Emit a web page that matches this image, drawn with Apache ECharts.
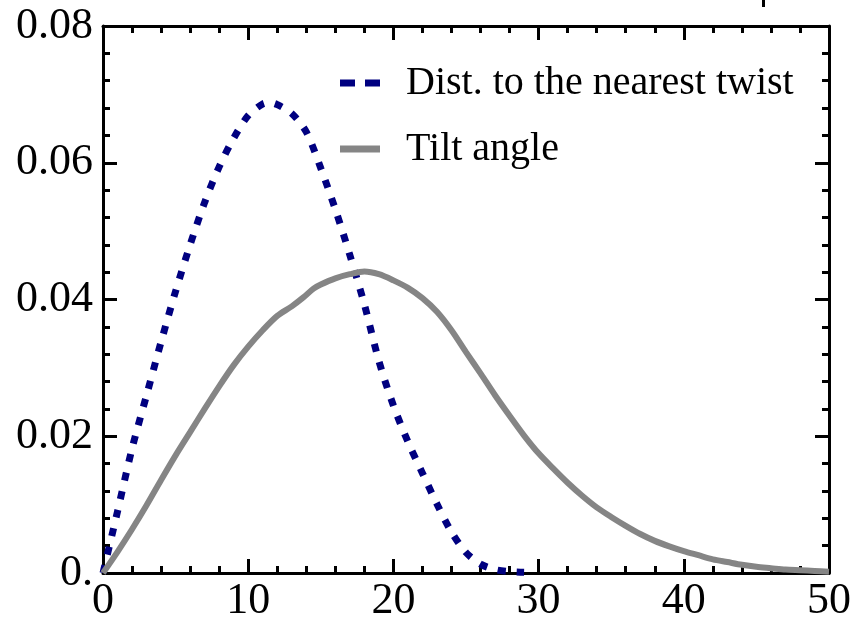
<!DOCTYPE html>
<html>
<head>
<meta charset="utf-8">
<script src="https://cdn.jsdelivr.net/npm/echarts@6/dist/echarts.min.js"></script>
<style>html,body{margin:0;padding:0;background:#fff}#c{width:854px;height:623px}</style>
</head>
<body>
<div id="c"></div>
<script>
const seriesNames = ['Dist. to the nearest twist', 'Tilt angle'];
const xTicks = [0, 10, 20, 30, 40, 50];
const yTicks = [0, 0.02, 0.04, 0.06, 0.08];

const distX = [0, 1, 2, 3, 4, 5, 6, 7, 8, 9, 10, 11, 11.5, 12, 13, 14, 15, 16, 17, 18, 19, 20, 21, 22, 23, 24, 25, 26, 27, 28, 29];
const distY = [0, 0.0090, 0.0182, 0.0260, 0.0338, 0.0412, 0.0480, 0.0542, 0.0594, 0.0636, 0.0669, 0.0686, 0.0688, 0.0685, 0.0672, 0.0645, 0.0592, 0.0532, 0.0465, 0.0393, 0.0310, 0.0245, 0.0192, 0.0146, 0.0101, 0.0060, 0.0030, 0.0013, 0.0005, 0.0002, 0.0001];

const tiltX = [0, 1, 2, 3, 4, 5, 6, 7, 8, 9, 10, 11, 12, 13, 13.8, 14.5, 15, 16, 17, 18, 19, 20, 21, 22, 23, 24, 25, 26, 27, 28, 29, 30, 31, 32, 33, 34, 35, 36, 37, 38, 39, 40, 41, 42, 43, 44, 45, 46, 47, 48, 49, 50];
const tiltY = [0, 0.0031, 0.0064, 0.0099, 0.0136, 0.0172, 0.0206, 0.0240, 0.0273, 0.0304, 0.0331, 0.0355, 0.0376, 0.0390, 0.0403, 0.0416, 0.0422, 0.0431, 0.0437, 0.0441, 0.0437, 0.0428, 0.0417, 0.0402, 0.0382, 0.0355, 0.0323, 0.0292, 0.0260, 0.0230, 0.0201, 0.0175, 0.0153, 0.0132, 0.0113, 0.0096, 0.0082, 0.0069, 0.0057, 0.0047, 0.0039, 0.0032, 0.0026, 0.0020, 0.0016, 0.0012, 0.0009, 0.0007, 0.0005, 0.0004, 0.0003, 0.0002];

const FONT = '"Liberation Serif", "Times New Roman", serif';
const zip = (xs, ys) => xs.map((x, i) => [x, ys[i]]);

const axisCommon = {
  axisLine: { show: true, onZero: false, lineStyle: { color: '#000', width: 3 } },
  axisTick: { show: true, inside: true, length: 14, lineStyle: { color: '#000', width: 3 } },
  minorTick: { show: true, splitNumber: 5, length: 7, lineStyle: { color: '#000', width: 3 } },
  splitLine: { show: false }
};

const chart = echarts.init(document.getElementById('c'), null, { renderer: 'canvas' });
chart.setOption({
  animation: false,
  backgroundColor: '#fff',
  grid: { left: 103, right: 25, top: 26, bottom: 50, containLabel: false },
  xAxis: [
    Object.assign({ type: 'value', position: 'bottom', min: xTicks[0], max: xTicks[xTicks.length - 1], interval: 10,
      axisLabel: { show: true, color: '#000', fontFamily: FONT, fontSize: 44, margin: 6 } }, axisCommon),
    Object.assign({ type: 'value', position: 'top', min: xTicks[0], max: xTicks[xTicks.length - 1], interval: 10,
      axisLabel: { show: false } }, axisCommon)
  ],
  yAxis: [
    Object.assign({ type: 'value', position: 'left', min: yTicks[0], max: yTicks[yTicks.length - 1], interval: 0.02,
      axisLabel: { show: true, color: '#000', fontFamily: FONT, fontSize: 44, margin: 10,
        formatter: v => v === 0 ? '0.' : v.toFixed(2) } }, axisCommon),
    Object.assign({ type: 'value', position: 'right', min: yTicks[0], max: yTicks[yTicks.length - 1], interval: 0.02,
      axisLabel: { show: false } }, axisCommon)
  ],
  legend: {
    orient: 'vertical', left: 335, top: 58, itemWidth: 40, itemHeight: 7, itemGap: 26,
    symbolKeepAspect: false,
    textStyle: { fontFamily: FONT, fontSize: 40, color: '#000', padding: [0, 0, 0, 21] },
    data: [
      { name: seriesNames[0], icon: 'path://M0,0h15v7h-15z M25,0h15v7h-15z', itemStyle: { color: '#000080' } },
      { name: seriesNames[1], icon: 'path://M0,0h40v7h-40z', itemStyle: { color: '#858585' } }
    ]
  },
  graphic: [
    { type: 'rect', shape: { x: 762, y: 0, width: 3, height: 7 }, style: { fill: '#000' } }
  ],
  series: [
    { name: seriesNames[0], type: 'line', data: zip(distX, distY), smooth: 0.3, symbol: 'none',
      lineStyle: { color: '#000080', width: 7, type: [8, 11], cap: 'butt' }, itemStyle: { color: '#000080' } },
    { name: seriesNames[1], type: 'line', data: zip(tiltX, tiltY), smooth: 0.3, symbol: 'none',
      lineStyle: { color: '#858585', width: 6 }, itemStyle: { color: '#858585' } }
  ]
});
</script>
</body>
</html>
